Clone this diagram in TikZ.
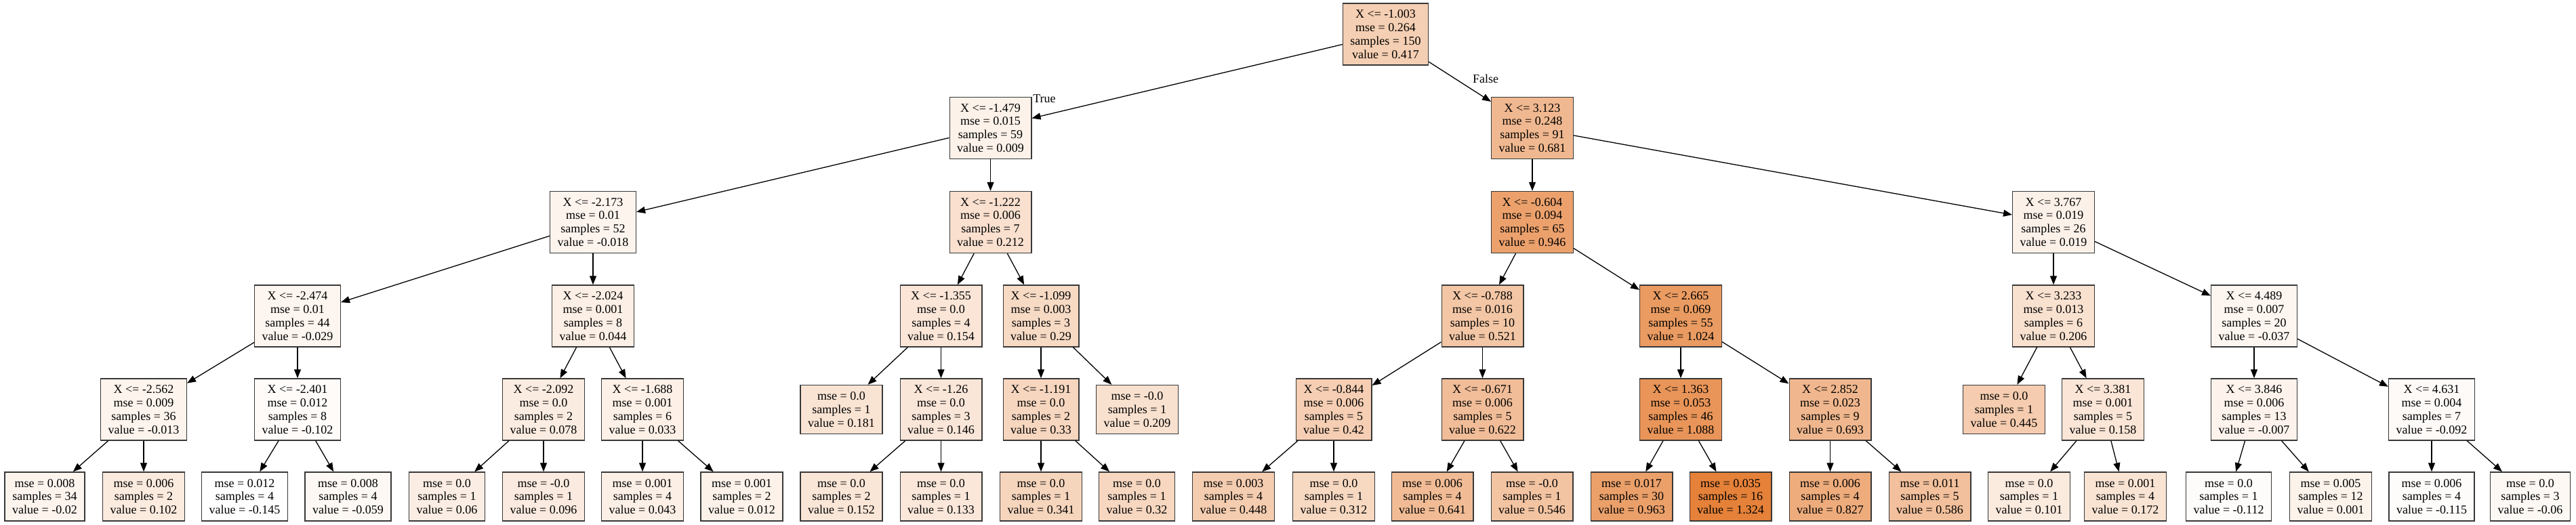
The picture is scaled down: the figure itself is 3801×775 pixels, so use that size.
\documentclass[tikz,border=0pt]{standalone}
\usepackage{fontspec}
\setmainfont{Liberation Serif}
\usetikzlibrary{arrows.meta}
\definecolor{tor}{RGB}{229,129,57}
\tikzset{
  tbox/.style={draw=black!78, line width=1.4pt, rectangle, align=center,
    inner xsep=11pt, inner ysep=0pt, font=\fontsize{18}{19.8}\selectfont},
  tfour/.style={minimum height=91pt},
  tthree/.style={minimum height=72pt},
  edge/.style={line width=1.3pt, -{Triangle[length=13pt,width=10pt]}},
  elabel/.style={font=\fontsize{18}{19.8}\selectfont, inner sep=0pt}
}
\newcommand{\inode}[8]{\node[tbox,tfour,fill=tor!#4!white] (#1) at (#2,#3) {X <= #5\\mse = #6\\samples = #7\\value = #8};}
\newcommand{\lnode}[7]{\node[tbox,tthree,fill=tor!#4!white] (#1) at (#2,#3) {mse = #5\\samples = #6\\value = #7};}
\begin{document}
\begin{tikzpicture}[x=1pt,y=-1pt]
\useasboundingbox (0,0) rectangle (3801,775);
% level 0
\inode{root}{2044.5}{50.5}{38.3}{-1.003}{0.264}{150}{0.417}
% level 1
\inode{A}{1461.5}{189}{10.5}{-1.479}{0.015}{59}{0.009}
\inode{N}{2261}{189}{56.2}{3.123}{0.248}{91}{0.681}
% level 2
\inode{B}{875}{328}{8.6}{-2.173}{0.01}{52}{-0.018}
\inode{C}{1461.5}{328}{24.3}{-1.222}{0.006}{7}{0.212}
\inode{O}{2261}{328}{74.3}{-0.604}{0.094}{65}{0.946}
\inode{P}{3030}{328}{11.2}{3.767}{0.019}{26}{0.019}
% level 3
\inode{D}{439}{466.5}{7.9}{-2.474}{0.01}{44}{-0.029}
\inode{E}{875}{466.5}{12.9}{-2.024}{0.001}{8}{0.044}
\inode{F}{1388.5}{466.5}{20.4}{-1.355}{0.0}{4}{0.154}
\inode{G}{1536}{466.5}{29.6}{-1.099}{0.003}{3}{0.29}
\inode{Q}{2187.5}{466.5}{45.3}{-0.788}{0.016}{10}{0.521}
\inode{R}{2480}{466.5}{79.6}{2.665}{0.069}{55}{1.024}
\inode{W}{3030}{466.5}{23.9}{3.233}{0.013}{6}{0.206}
\inode{Y}{3326}{466.5}{7.4}{4.489}{0.007}{20}{-0.037}
% level 4
\inode{H}{212}{604.5}{9.0}{-2.562}{0.009}{36}{-0.013}
\inode{I}{439}{604.5}{2.9}{-2.401}{0.012}{8}{-0.102}
\inode{J}{802}{604.5}{15.2}{-2.092}{0.0}{2}{0.078}
\inode{K}{948}{604.5}{12.1}{-1.688}{0.001}{6}{0.033}
\lnode{Fa}{1241.5}{604.5}{22.2}{0.0}{1}{0.181}
\inode{L}{1388.5}{604.5}{19.8}{-1.26}{0.0}{3}{0.146}
\inode{M}{1536}{604.5}{32.3}{-1.191}{0.0}{2}{0.33}
\lnode{Gb}{1678}{604.5}{24.1}{-0.0}{1}{0.209}
\inode{S}{1968}{604.5}{38.5}{-0.844}{0.006}{5}{0.42}
\inode{T}{2187.5}{604.5}{52.2}{-0.671}{0.006}{5}{0.622}
\inode{U}{2480}{604.5}{83.9}{1.363}{0.053}{46}{1.088}
\inode{V}{2700.5}{604.5}{57.0}{2.852}{0.023}{9}{0.693}
\lnode{Wa}{2957}{604.5}{40.2}{0.0}{1}{0.445}
\inode{X}{3103}{604.5}{20.6}{3.381}{0.001}{5}{0.158}
\inode{Z}{3326}{604.5}{9.4}{3.846}{0.006}{13}{-0.007}
\inode{AA}{3588}{604.5}{3.6}{4.631}{0.004}{7}{-0.092}
% level 5
\lnode{Ha}{66}{733}{8.5}{0.008}{34}{-0.02}
\lnode{Hb}{212}{733}{16.8}{0.006}{2}{0.102}
\lnode{Ia}{361}{733}{0}{0.012}{4}{-0.145}
\lnode{Ib}{513.5}{733}{5.9}{0.008}{4}{-0.059}
\lnode{Ja}{659.5}{733}{14.0}{0.0}{1}{0.06}
\lnode{Jb}{802}{733}{16.4}{-0.0}{1}{0.096}
\lnode{Ka}{948}{733}{12.8}{0.001}{4}{0.043}
\lnode{Kb}{1094.5}{733}{10.7}{0.001}{2}{0.012}
\lnode{La}{1241.5}{733}{20.2}{0.0}{2}{0.152}
\lnode{Lb}{1388.5}{733}{18.9}{0.0}{1}{0.133}
\lnode{Ma}{1536}{733}{33.1}{0.0}{1}{0.341}
\lnode{Mb}{1677.5}{733}{31.7}{0.0}{1}{0.32}
\lnode{Sa}{1820}{733}{40.4}{0.003}{4}{0.448}
\lnode{Sb}{1968}{733}{31.1}{0.0}{1}{0.312}
\lnode{Ta}{2113.5}{733}{53.5}{0.006}{4}{0.641}
\lnode{Tb}{2260.5}{733}{47.0}{-0.0}{1}{0.546}
\lnode{Ua}{2407.5}{733}{75.4}{0.017}{30}{0.963}
\lnode{Ub}{2553.5}{733}{100}{0.035}{16}{1.324}
\lnode{Va}{2700.5}{733}{66.2}{0.006}{4}{0.827}
\lnode{Vb}{2847.5}{733}{49.8}{0.011}{5}{0.586}
\lnode{Xa}{2994}{733}{16.7}{0.0}{1}{0.101}
\lnode{Xb}{3136}{733}{21.6}{0.001}{4}{0.172}
\lnode{Za}{3288.5}{733}{2.2}{0.0}{1}{-0.112}
\lnode{Zb}{3439}{733}{9.9}{0.005}{12}{0.001}
\lnode{AAa}{3588}{733}{2.0}{0.006}{4}{-0.115}
\lnode{AAb}{3733.5}{733}{5.8}{0.0}{3}{-0.06}
% edges
\draw[edge] (root) -- (A);
\draw[edge] (root) -- (N);
\node[elabel] (lblT) at (1541,146) {True};
\node[elabel] (lblF) at (2192,116) {False};
\foreach \p/\c in {A/B,A/C,N/O,N/P,B/D,B/E,C/F,C/G,O/Q,O/R,P/W,P/Y,
  D/H,D/I,E/J,E/K,F/Fa,F/L,G/M,G/Gb,Q/S,Q/T,R/U,R/V,W/Wa,W/X,Y/Z,Y/AA,
  H/Ha,H/Hb,I/Ia,I/Ib,J/Ja,J/Jb,K/Ka,K/Kb,L/La,L/Lb,M/Ma,M/Mb,S/Sa,S/Sb,
  T/Ta,T/Tb,U/Ua,U/Ub,V/Va,V/Vb,X/Xa,X/Xb,Z/Za,Z/Zb,AA/AAa,AA/AAb}
  {\draw[edge] (\p) -- (\c);}
\end{tikzpicture}
\end{document}
